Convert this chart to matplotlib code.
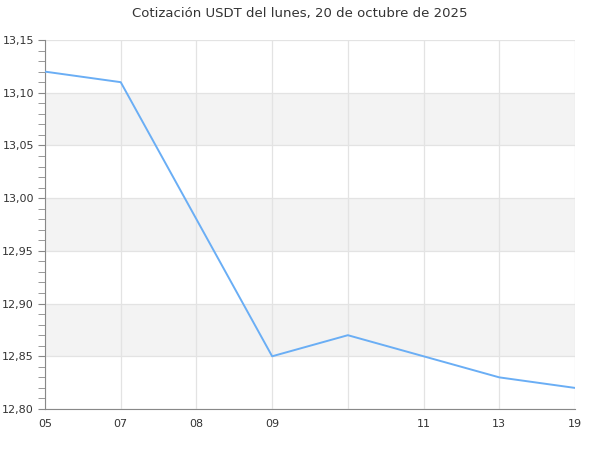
import matplotlib
matplotlib.use("Agg")
import matplotlib.pyplot as plt
from matplotlib.ticker import MultipleLocator, FuncFormatter

# datos
horas = ["05", "07", "08", "09", "", "11", "13", "19"]
cotizacion = [13.12, 13.11, 12.98, 12.85, 12.87, 12.85, 12.83, 12.82]
bandas = [(13.05, 13.10), (12.95, 13.00), (12.85, 12.90)]

fig = plt.figure(figsize=(6, 4.5), dpi=100)
ax = fig.add_axes([45 / 600, 1 - 409 / 450, 530 / 600, 369 / 450])

x = list(range(len(cotizacion)))
for lo, hi in bandas:
    ax.axhspan(lo, hi, color="#f3f3f3", zorder=0, lw=0)

ax.plot(x, cotizacion, color="#6aaef5", lw=1.4, zorder=3)

ax.set_xlim(0, len(x) - 1)
ax.set_ylim(12.80, 13.15)
ax.set_xticks(x)
ax.set_xticklabels(horas)
ax.yaxis.set_major_locator(MultipleLocator(0.05))
ax.yaxis.set_minor_locator(MultipleLocator(0.01))
ax.yaxis.set_major_formatter(FuncFormatter(lambda v, p: f"{v:.2f}".replace(".", ",")))

ax.grid(True, which="major", color="#e3e3e3", lw=0.9, zorder=1)
ax.set_axisbelow(True)
for s in ["top", "right"]:
    ax.spines[s].set_visible(False)
for s in ["left", "bottom"]:
    ax.spines[s].set_color("#888888")
ax.tick_params(axis="y", which="both", length=5, color="#888888", labelsize=8, labelcolor="#333333", pad=3)
ax.tick_params(axis="x", length=0, labelsize=8, labelcolor="#333333", pad=7)

fig.suptitle("Cotización USDT del lunes, 20 de octubre de 2025", y=0.985, fontsize=9.5, color="#333333")

fig.savefig("out.png", dpi=100)
